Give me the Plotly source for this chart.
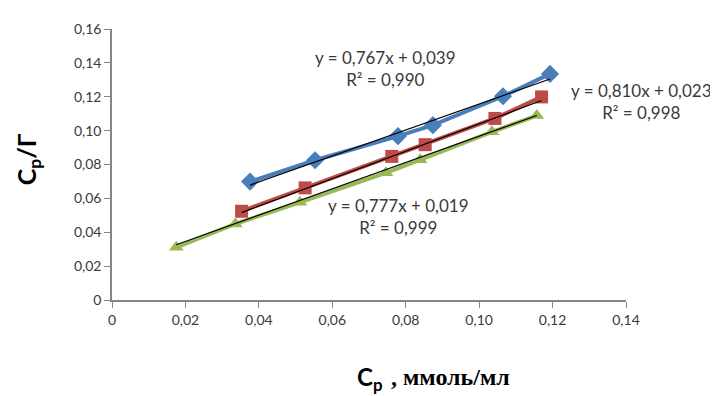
import plotly.graph_objects as go

# Data
blue_x = [0.0376, 0.0553, 0.0779, 0.0874, 0.1065, 0.1193]
blue_y = [0.0699, 0.0825, 0.0968, 0.1032, 0.1203, 0.1335]
red_x = [0.0353, 0.0526, 0.0762, 0.0853, 0.1043, 0.1170]
red_y = [0.0524, 0.0662, 0.0848, 0.0917, 0.1072, 0.1199]
green_x = [0.0175, 0.0336, 0.0512, 0.0746, 0.0839, 0.1035, 0.1157]
green_y = [0.0311, 0.0449, 0.0577, 0.0751, 0.0828, 0.0993, 0.1089]

slopes = [0.767, 0.810, 0.777]
intercepts = [0.039, 0.023, 0.019]
eq_texts = ["y = 0,767x + 0,039<br>R² = 0,990",
            "y = 0,810x + 0,023<br>R² = 0,998",
            "y = 0,777x + 0,019<br>R² = 0,999"]
# annotation anchors in paper coordinates
eq_pos = [(0.532, 0.853), (1.031, 0.733), (0.557, 0.308)]

x_ticks = [0, 0.02, 0.04, 0.06, 0.08, 0.10, 0.12, 0.14]
x_ticktext = ["0", "0,02", "0,04", "0,06", "0,08", "0,10", "0,12", "0,14"]
y_ticks = [0, 0.02, 0.04, 0.06, 0.08, 0.10, 0.12, 0.14, 0.16]
y_ticktext = ["0", "0,02", "0,04", "0,06", "0,08", "0,10", "0,12", "0,14", "0,16"]

series = [
    (blue_x, blue_y, "#4A7EBB", "diamond", 14),
    (red_x, red_y, "#BE4B48", "square", 13),
    (green_x, green_y, "#98B954", "triangle-up", 13),
]

fig = go.Figure()
for (xs, ys, col, sym, sz) in series:
    fig.add_trace(go.Scatter(x=xs, y=ys, mode="lines+markers",
                             line=dict(color=col, width=4),
                             marker=dict(symbol=sym, size=sz, color=col),
                             showlegend=False, cliponaxis=False))

for (xs, _, _, _, _), m, b in zip(series, slopes, intercepts):
    x0, x1 = min(xs), max(xs)
    fig.add_trace(go.Scatter(x=[x0, x1], y=[m * x0 + b, m * x1 + b], mode="lines",
                             line=dict(color="black", width=1.2),
                             showlegend=False, cliponaxis=False))

font_c = "#3A3A3A"
for t, (ex, ey) in zip(eq_texts, eq_pos):
    fig.add_annotation(xref="paper", yref="paper", x=ex, y=ey, text=t, showarrow=False,
                       xanchor="center", yanchor="middle",
                       font=dict(family="Lato", size=17, color=font_c),
                       align="center")

fig.add_annotation(xref="paper", yref="paper", x=0.5, y=-0.29,
                   xanchor="center", yanchor="middle",
                   text="<b>C<sub>p</sub></b>",
                   showarrow=False, font=dict(family="Lato", size=24, color="black"))
fig.add_annotation(xref="paper", yref="paper", x=0.658, y=-0.285,
                   xanchor="center", yanchor="middle",
                   text="<b>, ммоль/мл</b>",
                   showarrow=False, font=dict(family="Liberation Serif", size=24, color="black"))
fig.add_annotation(xref="paper", yref="paper", x=-0.163, y=0.52, textangle=-90,
                   xanchor="center", yanchor="middle",
                   text="<b>C<sub>p</sub>/Г</b>", showarrow=False,
                   font=dict(family="Lato", size=25, color="black"))

axis_common = dict(showgrid=False, zeroline=False, showline=True, linecolor="#868686",
                   linewidth=1.5, ticks="outside", ticklen=6, tickcolor="#868686",
                   tickfont=dict(family="Lato", size=14, color=font_c))
fig.update_xaxes(range=[0, 0.14], tickvals=x_ticks, ticktext=x_ticktext, **axis_common)
fig.update_yaxes(range=[0, 0.16], tickvals=y_ticks, ticktext=y_ticktext, **axis_common)

fig.update_layout(width=718, height=396, plot_bgcolor="white", paper_bgcolor="white",
                  margin=dict(l=104, r=100, t=13, b=104), showlegend=False)

fig.write_html("out.html")
